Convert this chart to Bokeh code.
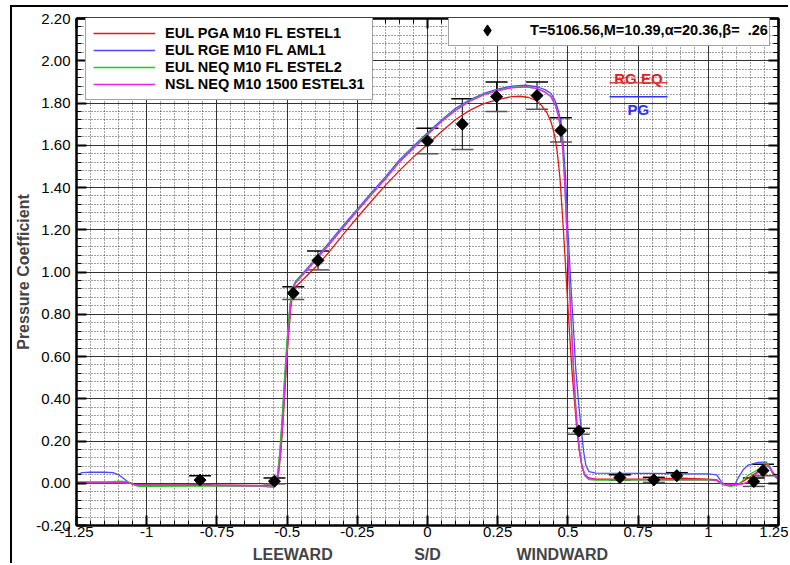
import math
from bokeh.plotting import figure
from bokeh.models import (FixedTicker, LinearAxis, Legend, LegendItem, Whisker, TeeHead,
                          ColumnDataSource, Label, Arrow, NumeralTickFormatter,
                          Range1d, CustomJSTickFormatter)
from bokeh.embed import file_html
from bokeh.resources import INLINE

# ---------------- data ----------------
x_ticks = [-1.25, -1.0, -0.75, -0.5, -0.25, 0.0, 0.25, 0.5, 0.75, 1.0, 1.25]
x_tick_labels = ["-1.25", "-1", "-0.75", "-0.5", "-0.25", "0", "0.25", "0.5", "0.75", "1", "1.25"]
x_minor = [round(-1.25 + 0.05 * i, 2) for i in range(51)]
y_ticks = [round(-0.2 + 0.2 * i, 2) for i in range(13)]
y_minor = [round(-0.2 + 0.04 * i, 2) for i in range(61)]
side_pos = [-0.48, 0.0, 0.48]
side_labels = ["LEEWARD", "S/D", "WINDWARD"]

names = ["EUL PGA M10 FL ESTEL1", "EUL RGE M10 FL AML1", "EUL NEQ M10 FL ESTEL2", "NSL NEQ M10 1500 ESTEL31"]
colors = ["#e01818", "#4a4aff", "#20c820", "#f020f0"]

pga_x = [-1.25, -1.1, -1.06, -1.045, -1.0, -0.8, -0.6, -0.55, -0.537, -0.53, -0.522, -0.514, -0.505, -0.496,
         -0.487, -0.479, -0.47, -0.45, -0.42, -0.39, -0.35, -0.3, -0.25, -0.2, -0.15, -0.1, -0.05, 0.0, 0.05,
         0.1, 0.15, 0.2, 0.25, 0.3, 0.33, 0.36, 0.385, 0.405, 0.425, 0.441, 0.452, 0.46, 0.466, 0.472, 0.484,
         0.495, 0.505, 0.514, 0.524, 0.532, 0.541, 0.55, 0.56, 0.575, 0.6, 0.8, 0.85, 0.9, 1.0, 1.03, 1.045,
         1.06, 1.09, 1.11, 1.125, 1.142, 1.16, 1.177, 1.195, 1.207, 1.217, 1.23, 1.242, 1.25]
pga_y = [0.005, 0.005, 0.003, -0.005, -0.008, -0.008, -0.01, -0.01, 0.0, 0.05, 0.15, 0.3, 0.5, 0.68,
         0.83, 0.905, 0.93, 0.955, 0.995, 1.035, 1.095, 1.178, 1.258, 1.335, 1.41, 1.48, 1.545, 1.604, 1.665,
         1.722, 1.765, 1.797, 1.816, 1.83, 1.832, 1.826, 1.813, 1.79, 1.755, 1.706, 1.65, 1.59, 1.52, 1.44, 1.2,
         0.95, 0.73, 0.54, 0.38, 0.25, 0.15, 0.08, 0.04, 0.025, 0.02, 0.02, 0.022, 0.024, 0.02, 0.016, 0.0,
         -0.008, -0.01, -0.002, 0.01, 0.024, 0.04, 0.055, 0.075, 0.09, 0.08, 0.045, 0.025, 0.02]

rge_x = [-1.25, -1.23, -1.2, -1.15, -1.12, -1.1, -1.08, -1.06, -1.04, -1.0, -0.8, -0.6, -0.55, -0.54, -0.533,
         -0.525, -0.517, -0.508, -0.499, -0.49, -0.482, -0.47, -0.45, -0.42, -0.39, -0.35, -0.3, -0.25, -0.2,
         -0.15, -0.1, -0.05, 0.0, 0.05, 0.1, 0.15, 0.2, 0.25, 0.3, 0.35, 0.39, 0.42, 0.44, 0.455, 0.467, 0.476,
         0.484, 0.492, 0.5, 0.51, 0.52, 0.528, 0.538, 0.548, 0.556, 0.564, 0.575, 0.6, 0.8, 0.88, 0.9, 1.0,
         1.03, 1.045, 1.06, 1.08, 1.095, 1.106, 1.125, 1.142, 1.177, 1.207, 1.225, 1.243, 1.25]
rge_y = [0.04, 0.05, 0.053, 0.052, 0.05, 0.04, 0.02, 0.0, -0.008, -0.01, -0.01, -0.012, -0.012, 0.0, 0.05,
         0.15, 0.3, 0.5, 0.68, 0.83, 0.92, 0.955, 0.985, 1.03, 1.077, 1.14, 1.22, 1.297, 1.375,
         1.45, 1.53, 1.595, 1.659, 1.72, 1.775, 1.815, 1.845, 1.866, 1.88, 1.884, 1.877, 1.862, 1.845, 1.81,
         1.76, 1.7, 1.6, 1.44, 1.2, 0.95, 0.73, 0.54, 0.38, 0.25, 0.15, 0.085, 0.055, 0.048, 0.047, 0.046,
         0.044, 0.044, 0.04, 0.01, -0.008, -0.012, -0.005, 0.024, 0.065, 0.086, 0.099, 0.1, 0.06, 0.032, 0.03]

neq_x = [-1.25, -1.15, -1.12, -1.1, -1.07, -1.05, -1.03, -1.0, -0.8, -0.6, -0.56, -0.548, -0.54, -0.533,
         -0.526, -0.518, -0.509, -0.5, -0.49, -0.482, -0.47, -0.45, -0.42, -0.39, -0.35, -0.3, -0.25, -0.2,
         -0.15, -0.1, -0.05, 0.0, 0.05, 0.1, 0.15, 0.2, 0.25, 0.3, 0.35, 0.39, 0.42, 0.44, 0.455, 0.466, 0.475,
         0.482, 0.488, 0.496, 0.505, 0.513, 0.52, 0.527, 0.534, 0.542, 0.55, 0.56, 0.575, 0.6, 0.8, 1.0, 1.03,
         1.045, 1.06, 1.08, 1.1, 1.115, 1.13, 1.15, 1.177, 1.195, 1.204, 1.215, 1.228, 1.24, 1.25]
neq_y = [0.005, 0.005, 0.008, 0.01, 0.008, -0.005, -0.015, -0.015, -0.013, -0.013, -0.018, -0.02, -0.01, 0.04,
         0.15, 0.3, 0.5, 0.68, 0.84, 0.925, 0.952, 0.98, 1.025, 1.071, 1.133, 1.213, 1.291, 1.368,
         1.443, 1.523, 1.588, 1.653, 1.715, 1.768, 1.81, 1.841, 1.861, 1.874, 1.877, 1.869, 1.851, 1.83, 1.79,
         1.74, 1.67, 1.58, 1.44, 1.2, 0.95, 0.73, 0.54, 0.38, 0.25, 0.15, 0.08, 0.035, 0.017, 0.015, 0.015, 0.015,
         0.012, -0.002, -0.01, -0.015, -0.01, 0.0, 0.024, 0.045, 0.063, 0.085, 0.1, 0.085, 0.05, 0.028, 0.02]

nsl_x = [-1.25, -1.1, -1.06, -1.04, -1.0, -0.8, -0.6, -0.55, -0.538, -0.531, -0.523, -0.515, -0.506, -0.497,
         -0.488, -0.48, -0.47, -0.45, -0.42, -0.39, -0.35, -0.3, -0.25, -0.2, -0.15, -0.1, -0.05, 0.0, 0.05,
         0.1, 0.15, 0.2, 0.25, 0.3, 0.35, 0.39, 0.42, 0.44, 0.455, 0.466, 0.475, 0.482, 0.488, 0.496, 0.505,
         0.513, 0.52, 0.527, 0.534, 0.542, 0.55, 0.56, 0.575, 0.6, 0.8, 1.0, 1.03, 1.045, 1.06, 1.1, 1.12,
         1.14, 1.155, 1.175, 1.19, 1.21, 1.22, 1.232, 1.243, 1.25]
nsl_y = [0.002, 0.002, 0.0, -0.008, -0.01, -0.01, -0.012, -0.012, 0.0, 0.05, 0.15, 0.3, 0.5, 0.68,
         0.83, 0.915, 0.948, 0.977, 1.022, 1.068, 1.13, 1.21, 1.288, 1.365, 1.44, 1.52, 1.585, 1.65, 1.712,
         1.765, 1.807, 1.838, 1.858, 1.872, 1.876, 1.868, 1.85, 1.83, 1.79, 1.74, 1.67, 1.58, 1.44, 1.2, 0.95,
         0.73, 0.54, 0.38, 0.25, 0.15, 0.085, 0.04, 0.022, 0.018, 0.017, 0.017, 0.014, 0.0, -0.006, -0.006,
         -0.004, 0.005, 0.02, 0.05, 0.065, 0.08, 0.075, 0.045, 0.025, 0.022]

exp_x = [-0.81, -0.545, -0.478, -0.39, 0.0, 0.124, 0.246, 0.39, 0.475, 0.539, 0.685, 0.806, 0.888, 1.162, 1.195]
exp_y = [0.015, 0.01, 0.90, 1.055, 1.62, 1.70, 1.83, 1.835, 1.67, 0.247, 0.027, 0.016, 0.036, 0.008, 0.06]
exp_hi = [0.035, 0.025, 0.93, 1.10, 1.68, 1.82, 1.90, 1.90, 1.73, 0.26, 0.04, 0.028, 0.05, 0.025, 0.09]
exp_lo = [-0.005, -0.003, 0.87, 1.01, 1.56, 1.58, 1.76, 1.77, 1.615, 0.232, 0.014, 0.004, 0.022, -0.015, 0.035]
exp_label = "T=5106.56,M=10.39,\u03b1=20.36,\u03b2=  .26"

FONT = "Liberation Sans"

# ---------------- figure ----------------
# page-level outer frame (left / top black rule) drawn as the figure's CSS border
p = figure(width=778, height=558, x_range=Range1d(-1.25, 1.25), y_range=Range1d(-0.2, 2.2),
           output_backend="svg", toolbar_location=None,
           min_border_left=63, min_border_right=12, min_border_top=11, min_border_bottom=38,
           background_fill_color="white", border_fill_color="white")
p.styles = {"border-left": "2px solid black", "border-top": "2px solid black",
            "margin-left": "10px", "margin-top": "5px"}
p.outline_line_color = "black"
p.outline_line_width = 2

xt = FixedTicker(ticks=x_ticks, minor_ticks=x_minor)
yt = FixedTicker(ticks=y_ticks, minor_ticks=y_minor)

xa = p.below[0]
xa.ticker = xt
xa.major_label_overrides = {t: l for t, l in zip(x_ticks, x_tick_labels)}
ya = p.left[0]
ya.ticker = yt
ya.formatter = NumeralTickFormatter(format="0.00")
ya.axis_label = "Pressure Coefficient"
ya.axis_label_text_font = FONT
ya.axis_label_text_font_style = "bold"
ya.axis_label_text_font_size = "16px"
ya.axis_label_standoff = 1

for ax in (xa, ya):
    ax.axis_line_color = "black"
    ax.axis_line_width = 2
    ax.major_tick_in = 10
    ax.major_tick_out = 0
    ax.major_tick_line_width = 2
    ax.major_tick_line_color = "black"
    ax.minor_tick_in = 5
    ax.minor_tick_out = 0
    ax.minor_tick_line_color = "black"
    ax.major_label_text_font = FONT
    ax.major_label_text_font_size = "15px"
    ax.major_label_text_color = "black"
xa.major_label_standoff = 1
ya.major_label_standoff = 6

# mirrored axes (ticks only)
for loc, tk in (("above", xt), ("right", yt)):
    a = LinearAxis(ticker=tk, formatter=CustomJSTickFormatter(code="return ''"),
                   axis_line_color="black", axis_line_width=2,
                   major_tick_in=10, major_tick_out=0, major_tick_line_width=2,
                   minor_tick_in=5, minor_tick_out=0, major_label_standoff=0,
                   major_label_text_font_size="1px")
    p.add_layout(a, loc)

# side labels axis
sa = LinearAxis(ticker=FixedTicker(ticks=side_pos, minor_ticks=[]),
                major_label_overrides={t: l for t, l in zip(side_pos, side_labels)},
                axis_line_color=None, major_tick_line_color=None, minor_tick_line_color=None,
                major_label_standoff=0, major_label_text_font=FONT,
                major_label_text_font_style="bold", major_label_text_font_size="16px")
p.add_layout(sa, "below")

p.xgrid.ticker = xt
p.ygrid.ticker = yt
for g in (p.xgrid, p.ygrid):
    g.grid_line_color = "#333333"
    g.grid_line_width = 1
    g.minor_grid_line_color = "#222222"
    g.minor_grid_line_dash = "1 2"
    g.minor_grid_line_width = 1
    g.minor_grid_line_alpha = 0.85

# ---------------- curves ----------------
series = [(pga_x, pga_y), (rge_x, rge_y), (neq_x, neq_y), (nsl_x, nsl_y)]
line_rs = []
for (sx, sy), c in zip(series, colors):
    r = p.line(sx, sy, line_color=c, line_width=1.3)
    line_rs.append(r)

# experimental
src = ColumnDataSource(dict(x=exp_x, y=exp_y, hi=exp_hi, lo=exp_lo))
p.add_layout(Whisker(source=src, base="x", upper="hi", lower="lo", dimension="height",
                     line_color="black", line_width=1,
                     upper_head=TeeHead(size=22, line_color="black", line_width=1.5),
                     lower_head=TeeHead(size=22, line_color="#555555", line_width=1.5)))
# diamond glyph used for the legend swatch (covered by the data markers on the plot)
legend_marker = p.scatter("x", "y", source=src, marker="diamond", size=11,
                          fill_color="black", line_color="black")
p.scatter("x", "y", source=src, marker="square", angle=math.pi / 4, size=8.5,
          fill_color="black", line_color="black")

# legends
leg1 = Legend(items=[LegendItem(label=n, renderers=[r]) for n, r in zip(names, line_rs)],
              location=(9, 425), orientation="vertical",
              glyph_width=62, glyph_height=16, label_height=16, spacing=1, padding=7,
              label_standoff=10, label_text_font=FONT, label_text_font_style="bold",
              label_text_font_size="14.5px", label_text_color="black",
              border_line_color="#444444", border_line_width=1.5,
              background_fill_color="white", background_fill_alpha=1)
leg2 = Legend(items=[LegendItem(label=exp_label, renderers=[legend_marker])],
              location=(372, 479), glyph_width=74, glyph_height=28, label_height=16, padding=1,
              label_standoff=6, label_text_font=FONT, label_text_font_style="bold",
              label_text_font_size="14.5px", label_text_color="black",
              border_line_color="#444444", border_line_width=1.5,
              background_fill_color="white", background_fill_alpha=1)
p.add_layout(leg1)
p.add_layout(leg2)

# RG EQ / PG annotation
p.add_layout(Label(x=0.751, y=1.915, text="RG EQ", text_align="center", text_baseline="alphabetic",
                   text_color="#e02020", text_font=FONT, text_font_style="bold", text_font_size="15px"))
p.add_layout(Label(x=0.751, y=1.767, text="PG", text_align="center", text_baseline="alphabetic",
                   text_color="#3030ff", text_font=FONT, text_font_style="bold", text_font_size="15px"))
p.add_layout(Arrow(end=None, x_start=0.648, y_start=1.896, x_end=0.855, y_end=1.896,
                   line_color="#e04040", line_width=1.5))
p.add_layout(Arrow(end=None, x_start=0.648, y_start=1.83, x_end=0.855, y_end=1.83,
                   line_color="#3030ff", line_width=1.5))

open("out.html", "w").write(file_html(p, INLINE))
